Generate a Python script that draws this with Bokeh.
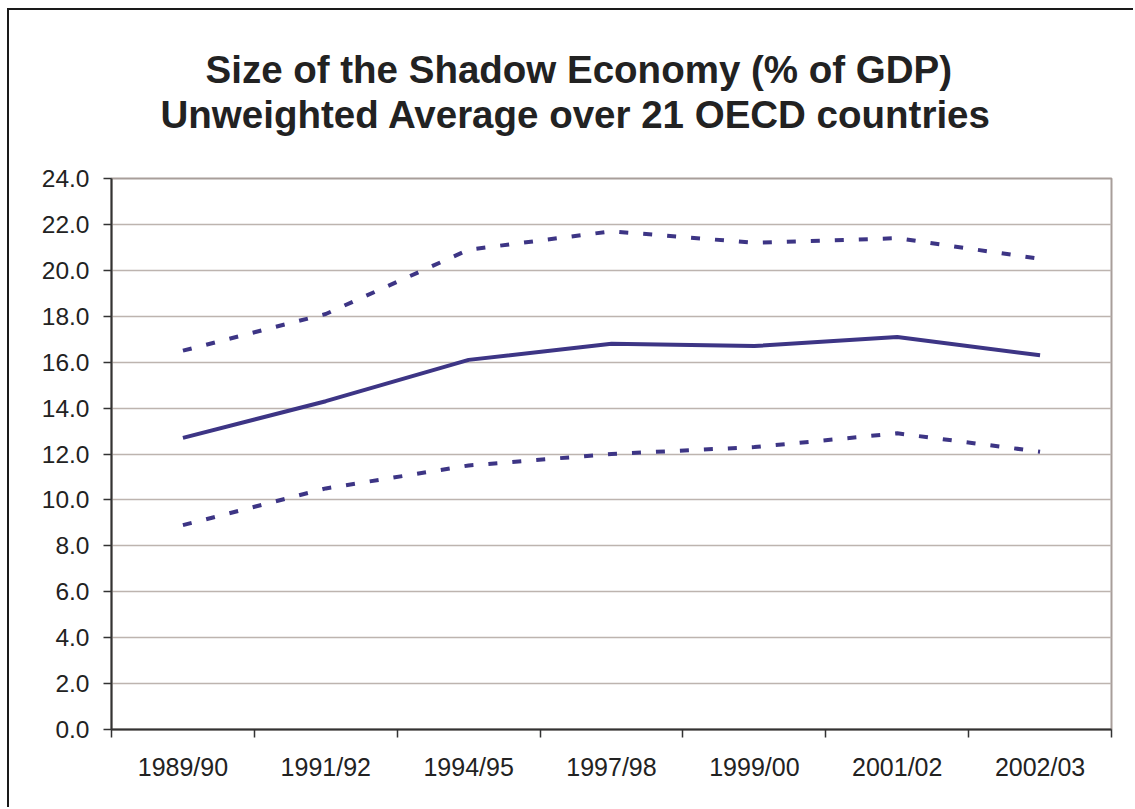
from bokeh.plotting import figure
from bokeh.models import Range1d, FixedTicker, NumeralTickFormatter, Title, LinearAxis
from bokeh.embed import file_html
from bokeh.resources import INLINE

# ---- data ----
categories = ["1989/90", "1991/92", "1994/95", "1997/98", "1999/00", "2001/02", "2002/03"]
average = [12.7, 14.3, 16.1, 16.8, 16.7, 17.1, 16.3]
upper = [16.5, 18.1, 20.9, 21.7, 21.2, 21.4, 20.5]
lower = [8.9, 10.5, 11.5, 12.0, 12.3, 12.9, 12.1]
y_ticks = [0, 2, 4, 6, 8, 10, 12, 14, 16, 18, 20, 22, 24]

title_line1 = "Size of the Shadow Economy (% of GDP)"
title_line2 = "Unweighted Average over 21 OECD countries"

xs = [i + 0.5 for i in range(len(categories))]

LINE = "#3d3585"
TXT = "#222222"
FONT = "Liberation Sans"

p = figure(width=1126, height=799, output_backend="svg", toolbar_location=None,
           x_range=Range1d(0, len(categories)), y_range=Range1d(0, 24),
           min_border_left=102, min_border_right=24, min_border_top=168, min_border_bottom=80,
           background_fill_color="white", border_fill_color="white")
p.styles = {"margin-left": "7px", "margin-top": "8px",
            "border-top": "2px solid #1a1a1a", "border-left": "2px solid #1a1a1a"}

p.outline_line_color = "#a89e9a"
p.outline_line_width = 2

# x axis: labels at category centres, ticks at category boundaries
xa = p.below[0]
xa.ticker = FixedTicker(ticks=xs, minor_ticks=list(range(len(categories) + 1)))
xa.major_label_overrides = {x: c for x, c in zip(xs, categories)}
xa.major_tick_out = 0
xa.major_tick_in = 0
xa.minor_tick_out = 8
xa.minor_tick_in = 0
xa.minor_tick_line_color = "#333333"
xa.minor_tick_line_width = 1.5
xa.axis_line_color = "#333333"
xa.axis_line_width = 2
xa.major_label_standoff = 15
xa.major_label_text_font = FONT
xa.major_label_text_font_size = "25px"
xa.major_label_text_color = TXT
p.xgrid.visible = False

ya = p.left[0]
ya.ticker = FixedTicker(ticks=y_ticks, minor_ticks=[])
ya.formatter = NumeralTickFormatter(format="0.0")
ya.major_tick_out = 8
ya.major_tick_in = 0
ya.major_tick_line_color = "#333333"
ya.major_tick_line_width = 1.5
ya.minor_tick_line_color = None
ya.axis_line_color = "#333333"
ya.axis_line_width = 2
ya.major_label_standoff = 14
ya.major_label_text_font = FONT
ya.major_label_text_font_size = "24.5px"
ya.major_label_text_color = TXT
p.ygrid.ticker = FixedTicker(ticks=y_ticks)
p.ygrid.grid_line_color = "#bdb4af"
p.ygrid.grid_line_width = 1.5

# invisible spacer between the plot area and the two title lines
spacer = LinearAxis(ticker=FixedTicker(ticks=[xs[0]], minor_ticks=[]), axis_line_color=None,
                    major_tick_line_color=None, minor_tick_line_color=None,
                    major_tick_out=43, major_tick_in=0, minor_tick_out=0, minor_tick_in=0,
                    major_label_standoff=0, major_label_overrides={xs[0]: ""},
                    major_label_text_font_size="0px")
p.add_layout(spacer, "above")

t2 = Title(text=title_line2, align="left", text_font=FONT, text_font_size="38.5px",
           text_font_style="bold", text_color=TXT, standoff=0, offset=49)
t1 = Title(text=title_line1, align="left", text_font=FONT, text_font_size="38.5px",
           text_font_style="bold", text_color=TXT, standoff=0, offset=94)
p.add_layout(t2, "above")
p.add_layout(t1, "above")

p.line(xs, upper, line_color=LINE, line_width=4, line_dash="9 15")
p.line(xs, average, line_color=LINE, line_width=4)
p.line(xs, lower, line_color=LINE, line_width=4, line_dash="9 15")

open("out.html", "w").write(file_html(p, INLINE))
